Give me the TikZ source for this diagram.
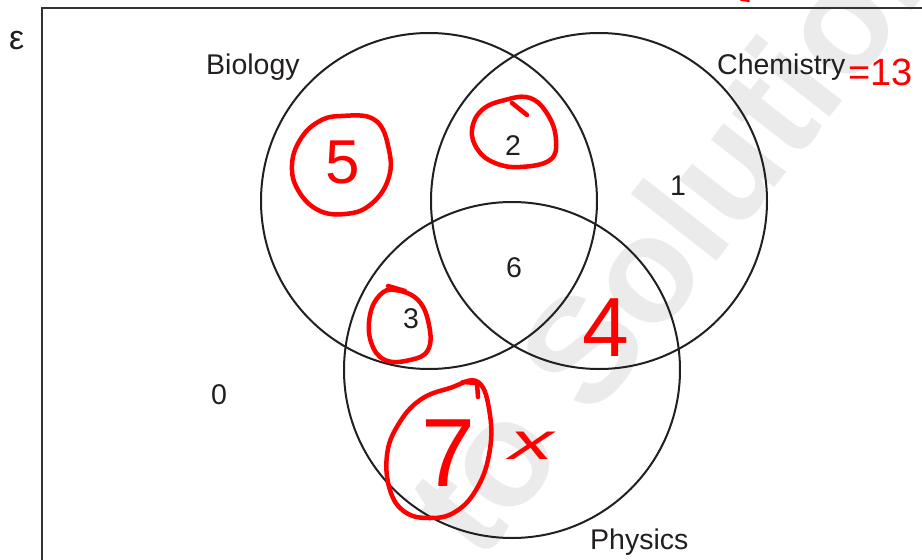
\documentclass[tikz,border=0pt]{standalone}
\usepackage{fontspec}
\setmainfont{Liberation Sans}
\usepackage{tikz}
\usetikzlibrary{positioning}
\definecolor{ink}{HTML}{231F20}
\definecolor{pen}{HTML}{FF0000}

\begin{document}
\begin{tikzpicture}[
  x=1pt, y=-1pt,
  every node/.style={inner sep=0pt, text=ink},
  num/.style={font=\fontsize{28.5}{30}\selectfont, anchor=base},
  title/.style={num, anchor=base west},
  setcircle/.style={draw=ink, circle, line width=2pt, minimum size=336pt},
  frame/.style={draw=black!80, line width=1.3pt},
  ring/.style={draw=pen, line width=4.5pt, line cap=round, line join=round},
  hand/.style={text=pen, font=\fontsize{#1}{#1}\selectfont},
  wmark/.style={text=black!8, font=\fontsize{150}{150}\selectfont\bfseries}
]

\useasboundingbox (0,0) rectangle (922,560);
\clip (0,0) rectangle (922,560);

\node[wmark, rotate=52, anchor=base west] (wm) at (480,565) {to Solutions};

\draw[frame] (42,8) rectangle (940,580);

\node[setcircle] (bio)  at (429,201) {};
\node[setcircle] (chem) at (599,201) {};
\node[setcircle] (phys) at (512,370) {};

\node[num, font=\fontsize{34}{36}\selectfont, anchor=base west] (eps) at (9,49) {ε};
\node[title] (biot)  at (206,74)  {Biology};
\node[title] (chemt) at (717,74)  {Chemistry};
\node[title] (physt) at (590,549) {Physics};

\node[num] (n2) at (513,155) {2};
\node[num] (n1) at (678,195) {1};
\node[num] (n6) at (514,277) {6};
\node[num] (n3) at (411,328) {3};
\node[num] (n0) at (219,404) {0};

\draw[ring] plot[smooth cycle, tension=0.7] coordinates {(341,116) (375,120) (389,150) (388,180) (370,205) (345,214) (318,210) (298,190) (292,165) (300,140) (318,122)};
\draw[ring] plot[smooth cycle, tension=0.7] coordinates {(505,100) (530,98) (548,115) (556,140) (550,160) (520,167) (495,163) (478,150) (472,130) (482,110)};
\draw[ring] (512,103) -- (527,115);
\draw[ring] plot[smooth cycle, tension=0.7] coordinates {(395,290) (418,300) (429,325) (428,350) (410,360) (385,360) (371,342) (370,315) (380,295)};
\draw[ring] (388,286) -- (405,291);
\draw[ring] plot[smooth cycle, tension=0.7] coordinates {(478,382) (490,415) (489,455) (476,490) (455,512) (430,518) (405,512) (390,490) (387,455) (398,425) (420,400) (450,388)};
\draw[ring] (463,382) -- (477,383) -- (478,397);
\draw[ring, line width=2pt] (741,0) -- (749,1);

\node[hand=62] (r5) at (343,162) {5};
\node[hand=84] (r4) at (606,328) {4};
\node[hand=97] (r7) at (448,453) {7};
\node[hand=52] (rx) at (532,446) {\scalebox{1.7}[1]{\itshape x}};
\node[hand=38, anchor=base west] (r13) at (848,85) {=13};

\end{tikzpicture}
\end{document}
